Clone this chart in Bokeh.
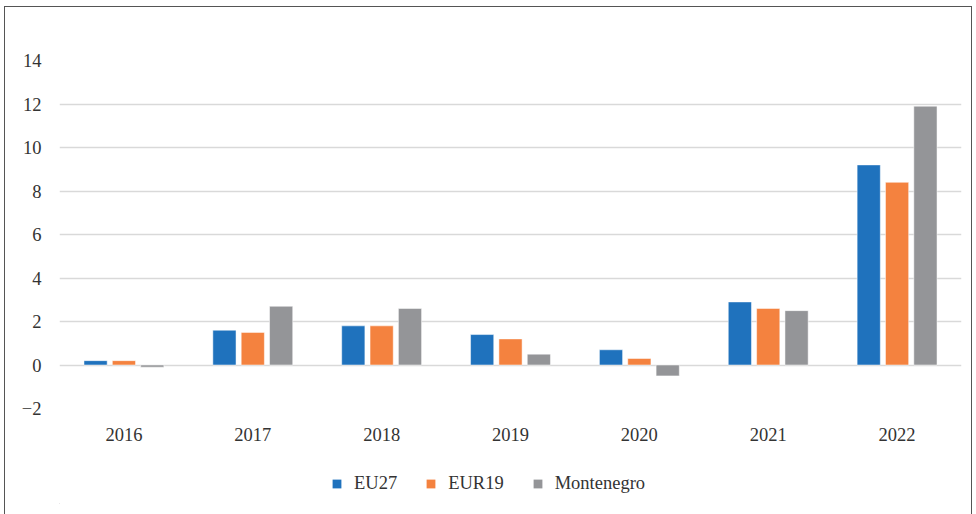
from bokeh.plotting import figure
from bokeh.models import ColumnDataSource, Range1d, FixedTicker, Legend, LegendItem, FactorRange
from bokeh.layouts import column
from bokeh.transform import dodge
from bokeh.embed import file_html
from bokeh.resources import INLINE

years = ["2016", "2017", "2018", "2019", "2020", "2021", "2022"]
eu27 = [0.2, 1.6, 1.8, 1.4, 0.7, 2.9, 9.2]
eur19 = [0.2, 1.5, 1.8, 1.2, 0.3, 2.6, 8.4]
montenegro = [-0.1, 2.7, 2.6, 0.5, -0.5, 2.5, 11.9]
y_ticks = [-2, 0, 2, 4, 6, 8, 10, 12, 14]
series_names = ["EU27", "EUR19", "Montenegro"]
colors = ["#1f72bd", "#f4823f", "#949598"]

src = ColumnDataSource(data=dict(years=years, eu27=eu27, eur19=eur19, montenegro=montenegro))

FONT = "'Liberation Serif', 'Times New Roman', serif"
FS = "18.5px"
TXT = "#333333"

p = figure(x_range=FactorRange(*years), y_range=Range1d(-2, 14), width=966, height=448,
           output_backend="svg", toolbar_location=None,
           min_border_left=54, min_border_right=10, min_border_top=53, min_border_bottom=47)
p.outline_line_color = None

for key, off, col in zip(["eu27", "eur19", "montenegro"], [-0.22, 0.0, 0.22], colors):
    p.vbar(x=dodge("years", off, range=p.x_range), top=key, bottom=0, width=0.18,
           source=src, fill_color=col, line_color="white", line_width=0.5)

p.xgrid.grid_line_color = None
p.ygrid.grid_line_color = "#d9d9d9"
p.ygrid.grid_line_width = 1.5
p.yaxis.ticker = FixedTicker(ticks=y_ticks)
p.yaxis.major_label_overrides = {-2: "\u22122"}
for ax in (p.xaxis, p.yaxis):
    ax.axis_line_color = None
    ax.major_tick_line_color = None
    ax.minor_tick_line_color = None
    ax.major_label_text_font = FONT
    ax.major_label_text_font_size = FS
    ax.major_label_text_color = TXT
p.yaxis.major_label_standoff = 12
p.xaxis.major_label_standoff = 13

# legend in its own small figure below (frame edges align with the main plot)
lf = figure(width=966, height=60, output_backend="svg", toolbar_location=None,
            x_range=Range1d(0, 1), y_range=Range1d(0, 1),
            min_border_left=0, min_border_right=0, min_border_top=0, min_border_bottom=12)
lf.axis.visible = False
lf.grid.visible = False
lf.outline_line_color = None
lrs = []
for col in colors:
    lrs.append(lf.vbar(x=[-10.0], top=[-10.0], bottom=[-11.0], width=0.1, fill_color=col, line_color=None))
legend = Legend(items=[LegendItem(label=n, renderers=[r]) for n, r in zip(series_names, lrs)],
                orientation="horizontal", location=(272, 9),
                glyph_width=11, glyph_height=11, label_standoff=12, spacing=28,
                label_text_font=FONT, label_text_font_size=FS, label_text_color=TXT,
                border_line_color=None, background_fill_alpha=0, margin=0, padding=4)
lf.add_layout(legend, "center")

layout = column(p, lf, spacing=0, margin=(6, 0, 0, 4),
                styles={"border": "1px solid #555555"})
open("out.html", "w").write(file_html(layout, INLINE))
